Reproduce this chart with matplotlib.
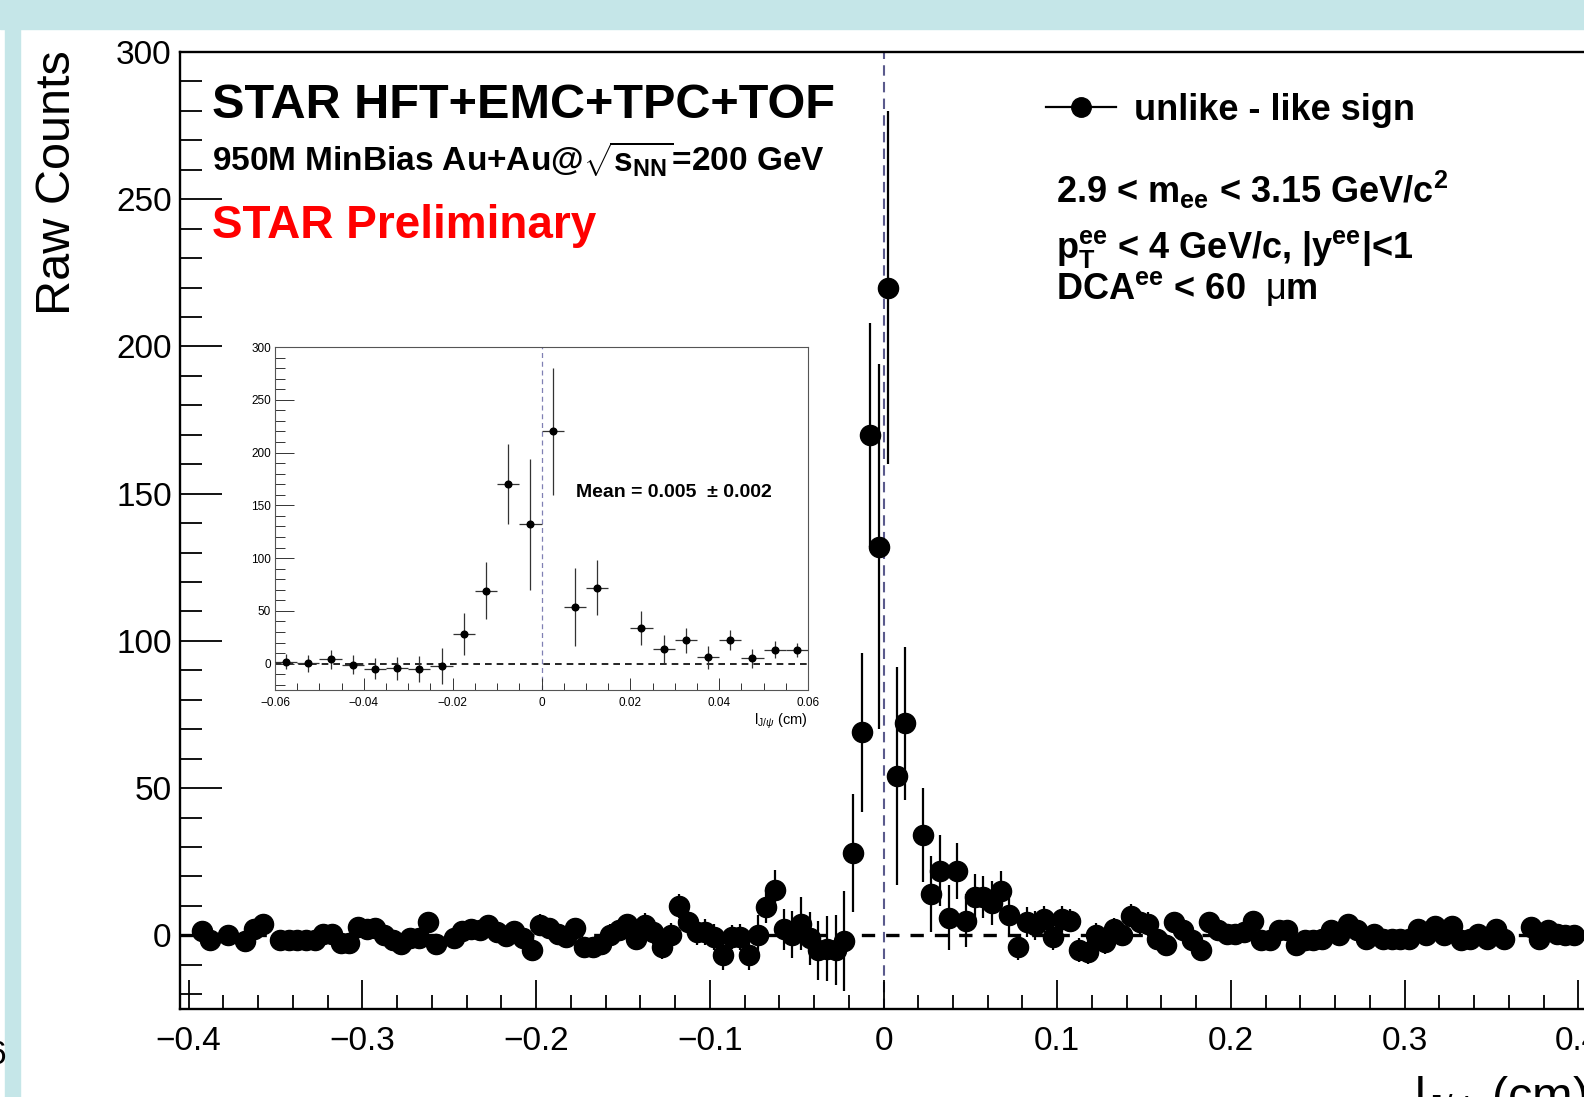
import numpy as np
import matplotlib.pyplot as plt
from matplotlib.patches import Rectangle
from matplotlib.lines import Line2D
from matplotlib.ticker import MultipleLocator

plt.rcParams['font.family'] = ['Liberation Sans', 'DejaVu Sans']
plt.rcParams['mathtext.fontset'] = 'custom'
plt.rcParams['mathtext.rm'] = 'Liberation Sans'
plt.rcParams['mathtext.it'] = 'Liberation Sans:italic'
plt.rcParams['mathtext.bf'] = 'Liberation Sans:bold'
plt.rcParams['axes.unicode_minus'] = True

nan = float('nan')

# J/psi decay length histogram, 160 bins of 0.005 cm between -0.4 and 0.4
l_centres = np.linspace(-0.3975, 0.3975, 160)
half_bin = 0.0025

# unlike - like sign raw counts per bin (empty bins are not drawn)
counts = [
    nan, 1.5, -1.5, nan, 0, nan, -2, 2, 4, nan,
    -1.5, -1.5, -1.5, -1.5, -1.5, 0.5, 0.5, -2.5, -2.5, 3,
    2, 2.5, 0, -1.5, -3, -1, -1, 4.5, -3, nan,
    -1, 1.5, 2, 1.7, 3.4, 1, -0.3, 1.4, -1, -5,
    3.6, 2.5, 0.5, -0.5, 2.5, -4, -4, -3, 0.3, 1.7,
    3.9, -1.1, 3.6, 1.1, -4, 0.3, 10, 4.5, 1.1, 1.1,
    -0.5, -6.8, -0.5, -0.5, -6.8, 0.3, 9.8, 15.3, 2, 0.3,
    4, -1, -5, -4.5, -5, -2, 28, 69, 170, 132,
    220, 54, 72, nan, 34, 14, 22, 6, 22, 5,
    13, 13, 11, 15, 7, -4, 4.5, 3.4, 5.6, -0.5,
    5.6, 5, -5, -5.6, 0.3, -2.2, 2, 0.3, 6.7, 4.4,
    3.9, -1.1, -3.3, 4.4, 1.7, -1.7, -5, 4.4, 1.7, 0.5,
    0.5, 1.1, 5, -1.7, -1.7, 1.7, 1.7, -3.3, -1.7, -1.7,
    -1.1, 1.7, 0.3, 3.9, 1.7, -1.1, 0.5, -1.1, -1.1, -1.1,
    -1.1, 2.2, 0.3, 3.3, 0.3, 3.3, -1.7, -1.1, 0.5, -1.1,
    2.2, -1.1, nan, nan, 2.8, -1.1, 1.7, 0.5, 0.3, 0.3,
]

# statistical errors per bin
errors = [
    3, 3, 3, 3, 3, 3, 3, 3, 3, 3,
    3, 3, 3, 3, 3, 3, 3, 3, 3, 3,
    3, 3, 3, 3, 3, 3, 3, 3, 3, 3,
    3, 3, 3, 3, 3, 3, 3, 3, 3, 3,
    3.5, 3.5, 3.5, 3.5, 3.5, 3.5, 3.5, 3.5, 3.5, 3.5,
    3.5, 4, 4, 4, 4, 4, 4, 4.5, 4.5, 4.5,
    4.5, 5, 4, 4.5, 5, 6.5, 5.5, 7, 7, 8,
    9, 9, 10, 11, 12, 17, 20, 27, 38, 62,
    60, 37, 26, 0, 16, 13, 12, 11, 9.5, 9,
    8, 7, 7.5, 7, 6.5, 4.5, 5, 5, 4.5, 4.5,
    4.5, 4, 4, 4, 4, 4, 4, 4, 4, 4,
    4, 3, 3, 3, 3, 3, 3, 3, 3, 3,
    3, 3, 3, 3, 3, 3, 3, 3, 3, 3,
    3, 3, 3, 3, 3, 3, 3, 3, 3, 3,
    3, 3, 3, 3, 3, 3, 3, 3, 3, 3,
    3, 3, 3, 3, 3, 3, 3, 3, 3, 3,
]

# zoomed view covers -0.06 .. 0.06 cm
zoom_lo, zoom_hi = 68, 92

counts = np.array(counts)
errors = np.array(errors)

W, H = 1584, 1097
fig = plt.figure(figsize=(W / 100, H / 100), dpi=100)


def fx(px):
    return px / W


def fy(py):
    return 1 - py / H


# slide frame
teal = '#c5e6e8'
fig.patches.append(Rectangle((0, fy(29)), 1, 29 / H, transform=fig.transFigure,
                             color=teal, zorder=0))
fig.patches.append(Rectangle((fx(5), 0), 15 / W, fy(29), transform=fig.transFigure,
                             color=teal, zorder=0))
fig.text(fx(-13), fy(1056), '6', fontsize=24, va='center', ha='left')

# ---- main panel ----
ax = fig.add_axes([fx(180), fy(1009), 1407 / W, (1009 - 52) / H])
ax.set_xlim(-0.405, 0.405)
ax.set_ylim(-25, 300)

ax.axvline(0, color='#5a5a8c', lw=1.5, dashes=(5, 3), zorder=1)
ax.axhline(0, color='black', lw=2.4, dashes=(4, 3.3), zorder=1)
ax.errorbar(l_centres, counts, yerr=errors, xerr=half_bin, fmt='o', ms=14.5,
            color='black', elinewidth=1.6, capsize=0, zorder=3)

for s in ax.spines.values():
    s.set_linewidth(1.7)
ax.xaxis.set_major_locator(MultipleLocator(0.1))
ax.xaxis.set_minor_locator(MultipleLocator(0.02))
ax.yaxis.set_major_locator(MultipleLocator(50))
ax.yaxis.set_minor_locator(MultipleLocator(10))
ax.tick_params(which='both', direction='in', top=False, right=False,
               labelsize=24, width=1.3)
ax.tick_params(axis='y', which='major', length=30, pad=6)
ax.tick_params(axis='y', which='minor', length=16)
ax.tick_params(axis='x', which='major', length=21, pad=12)
ax.tick_params(axis='x', which='minor', length=10)
ax.set_xticks(np.linspace(-0.4, 0.4, 9))
ax.set_xticklabels(['\u22120.4', '\u22120.3', '\u22120.2', '\u22120.1', '0',
                    '0.1', '0.2', '0.3', '0.4'])

fig.text(fx(58), fy(50), 'Raw Counts', rotation=90, fontsize=35,
         ha='center', va='top')
fig.text(fx(1587), fy(1074), r'l$_{\mathrm{J/}\psi}$ (cm)', fontsize=35,
         ha='right', va='top')

# labels
fig.text(fx(212), fy(118), 'STAR HFT+EMC+TPC+TOF', fontsize=35,
         fontweight='bold', va='baseline')
fig.text(fx(212), fy(171),
         r'950M MinBias Au+Au@$\sqrt{\mathbf{s}_{\mathbf{NN}}}$=200 GeV',
         fontsize=24, fontweight='bold', va='baseline')
fig.text(fx(212), fy(238), 'STAR Preliminary', fontsize=33,
         fontweight='bold', color='#ff0000', va='baseline')

handle = Line2D([], [], color='black', lw=1.6, marker='o', ms=14)
fig.legend([handle], ['unlike - like sign'], loc='center left',
           bbox_to_anchor=(fx(1046), fy(110)), frameon=False,
           prop={'size': 26, 'weight': 'bold'}, handlelength=1.95,
           handletextpad=0.5, borderpad=0, borderaxespad=0)

fig.text(fx(1056), fy(203),
         r'2.9 < m$_{\mathbf{ee}}$ < 3.15 GeV/c$^{\mathbf{2}}$',
         fontsize=26, fontweight='bold', va='baseline')
fig.text(fx(1056), fy(258),
         r'p$_{\mathbf{T}}^{\mathbf{ee}}$ < 4 GeV/c, |y$^{\mathbf{ee}}$|<1',
         fontsize=26, fontweight='bold', va='baseline')
fig.text(fx(1056), fy(299), r'DCA$^{\mathbf{ee}}$ < 60  $\mathrm{\mu}$m',
         fontsize=26, fontweight='bold', va='baseline')

# ---- inset around the peak ----
ax_in = fig.add_axes([fx(275), fy(690), 533 / W, 343 / H])
ax_in.set_xlim(-0.06, 0.06)
ax_in.set_ylim(-25, 300)
ax_in.axvline(0, color='#8080b4', lw=0.9, dashes=(4, 3), zorder=1)
ax_in.axhline(0, color='black', lw=1.2, dashes=(4, 3), zorder=1)
ax_in.errorbar(l_centres[zoom_lo:zoom_hi], counts[zoom_lo:zoom_hi],
               yerr=errors[zoom_lo:zoom_hi], xerr=half_bin, fmt='o', ms=4.8,
               color='black', ecolor='#333333', elinewidth=0.9, capsize=0,
               zorder=3)
for s in ax_in.spines.values():
    s.set_linewidth(0.8)
    s.set_color('#555555')
ax_in.xaxis.set_major_locator(MultipleLocator(0.02))
ax_in.xaxis.set_minor_locator(MultipleLocator(0.005))
ax_in.yaxis.set_major_locator(MultipleLocator(50))
ax_in.yaxis.set_minor_locator(MultipleLocator(10))
ax_in.tick_params(which='both', direction='in', top=False, right=False,
                  labelsize=8.5, width=0.7, color='#333333')
ax_in.tick_params(axis='y', which='major', length=14, pad=3)
ax_in.tick_params(axis='y', which='minor', length=7)
ax_in.tick_params(axis='x', which='major', length=9, pad=5)
ax_in.tick_params(axis='x', which='minor', length=5)
ax_in.set_xticks([-0.06, -0.04, -0.02, 0, 0.02, 0.04, 0.06])
ax_in.set_xticklabels(['\u22120.06', '\u22120.04', '\u22120.02', '0',
                       '0.02', '0.04', '0.06'])
ax_in.set_xlabel(r'l$_{\mathrm{J/}\psi}$ (cm)', fontsize=10.5, loc='right',
                 labelpad=2)
ax_in.text(0.0078, 162, 'Mean = 0.005  \u00b1 0.002', fontsize=14,
           fontweight='bold', va='center', ha='left')

fig.savefig('out.png', dpi=100)
